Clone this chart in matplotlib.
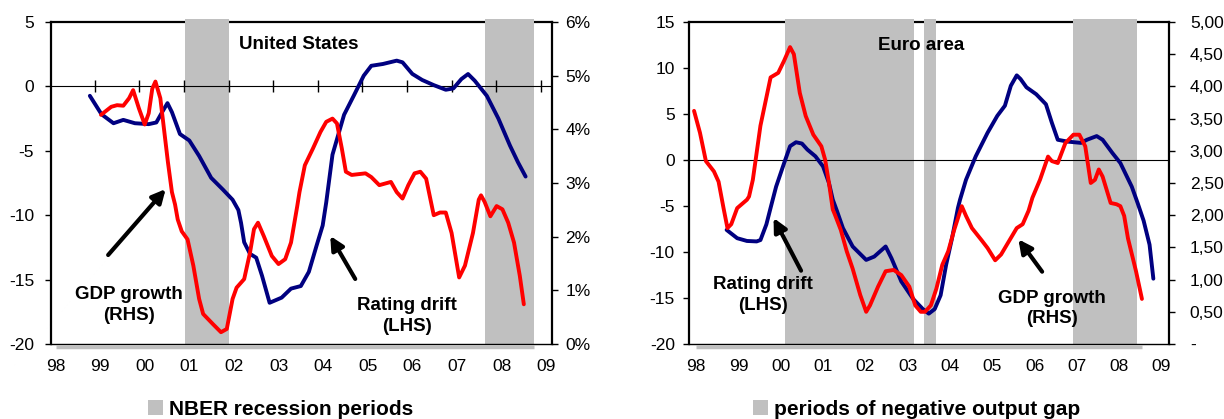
import numpy as np
import matplotlib
matplotlib.use('Agg')
import matplotlib.pyplot as plt
from matplotlib.patches import Patch
from matplotlib.transforms import offset_copy

plt.rcParams['font.family'] = ['Liberation Sans', 'DejaVu Sans']

# ---- data ----
years = list(range(1998, 2010))
year_labels = ['98', '99', '00', '01', '02', '03', '04', '05', '06', '07', '08', '09']

# United States: rating drift (LHS)
us_drift_x = [1998.77, 1999.03, 1999.30, 1999.52, 1999.78, 2000.09, 2000.26, 2000.39, 2000.51,
              2000.61, 2000.79, 2001.00, 2001.22, 2001.49, 2001.75, 2001.97, 2002.10, 2002.16,
              2002.23, 2002.36, 2002.50, 2002.63, 2002.80, 2003.07, 2003.28, 2003.50, 2003.68,
              2003.85, 2003.99, 2004.07, 2004.21, 2004.47, 2004.69, 2004.91, 2005.08, 2005.34,
              2005.65, 2005.78, 2006.00, 2006.22, 2006.48, 2006.75, 2006.92, 2007.10, 2007.25,
              2007.40, 2007.67, 2007.93, 2008.19, 2008.37, 2008.54]
us_drift = [-0.73, -2.16, -2.86, -2.6, -2.86, -2.93, -2.8, -2.0, -1.3,
            -2.0, -3.7, -4.2, -5.4, -7.1, -8.0, -8.8, -9.6, -10.6,
            -12.1, -13.0, -13.3, -14.7, -16.8, -16.4, -15.7, -15.5, -14.4,
            -12.4, -10.8, -9.0, -5.3, -2.2, -0.7, 0.83, 1.6, 1.74,
            2.0, 1.87, 0.97, 0.5, 0.1, -0.26, -0.16, 0.57, 0.96,
            0.44, -0.73, -2.5, -4.6, -5.9, -7.0]

# United States: GDP growth (RHS, %)
us_gdp_x = [1999.02, 1999.25, 1999.38, 1999.52, 1999.65, 1999.74, 1999.87, 2000.00, 2000.09,
            2000.17, 2000.24, 2000.35, 2000.44, 2000.52, 2000.61, 2000.68, 2000.74, 2000.83,
            2000.96, 2001.09, 2001.22, 2001.31, 2001.53, 2001.71, 2001.84, 2001.97, 2002.06,
            2002.23, 2002.36, 2002.45, 2002.54, 2002.67, 2002.85, 2003.00, 2003.15, 2003.28,
            2003.42, 2003.47, 2003.59, 2003.77, 2003.94, 2004.07, 2004.21, 2004.31, 2004.42,
            2004.51, 2004.64, 2004.95, 2005.08, 2005.26, 2005.39, 2005.52, 2005.65, 2005.78,
            2005.91, 2006.05, 2006.18, 2006.31, 2006.48, 2006.62, 2006.75, 2006.88, 2007.05,
            2007.18, 2007.36, 2007.49, 2007.54, 2007.62, 2007.75, 2007.89, 2008.02, 2008.15,
            2008.28, 2008.41, 2008.50]
us_gdp = [4.27, 4.42, 4.45, 4.44, 4.58, 4.73, 4.39, 4.09, 4.3,
          4.76, 4.89, 4.58, 3.95, 3.39, 2.83, 2.6, 2.32, 2.1,
          1.95, 1.46, 0.84, 0.56, 0.37, 0.22, 0.28, 0.84, 1.05,
          1.21, 1.70, 2.14, 2.26, 2.01, 1.64, 1.49, 1.58, 1.89,
          2.57, 2.83, 3.33, 3.64, 3.95, 4.14, 4.20, 4.11, 3.64,
          3.21, 3.15, 3.18, 3.11, 2.96, 2.99, 3.02, 2.83, 2.71,
          2.96, 3.18, 3.21, 3.08, 2.40, 2.45, 2.45, 2.07, 1.24,
          1.46, 2.07, 2.69, 2.77, 2.65, 2.38, 2.57, 2.51, 2.26,
          1.89, 1.27, 0.74]

us_recessions = [(2000.90, 2001.89), (2007.64, 2008.73)]

# Euro area: rating drift (LHS)
ea_drift_x = [1998.72, 1998.97, 1999.20, 1999.43, 1999.52, 1999.66, 1999.76, 1999.89, 2000.08,
              2000.22, 2000.36, 2000.50, 2000.63, 2000.82, 2001.00, 2001.14, 2001.23, 2001.33,
              2001.47, 2001.70, 2002.02, 2002.21, 2002.48, 2002.62, 2002.85, 2003.13, 2003.36,
              2003.50, 2003.64, 2003.78, 2003.91, 2004.05, 2004.19, 2004.24, 2004.38, 2004.61,
              2004.89, 2005.12, 2005.30, 2005.44, 2005.58, 2005.67, 2005.81, 2006.04, 2006.27,
              2006.41, 2006.55, 2006.78, 2007.10, 2007.24, 2007.47, 2007.61, 2007.84, 2008.03,
              2008.30, 2008.44, 2008.58, 2008.72, 2008.81]
ea_drift = [-7.6, -8.5, -8.8, -8.85, -8.7, -7.0, -5.2, -2.9, -0.33,
            1.5, 1.93, 1.79, 1.13, 0.4, -0.7, -2.5, -4.3, -5.55,
            -7.4, -9.4, -10.86, -10.5, -9.4, -10.7, -13.2, -15.1, -16.2,
            -16.7, -16.2, -14.7, -11.4, -8.5, -5.2, -4.3, -2.15, 0.4,
            2.96, 4.8, 5.9, 8.07, 9.2, 8.8, 7.9, 7.15, 6.06,
            4.05, 2.2, 2.0, 1.86, 2.2, 2.6, 2.2, 0.77, -0.33,
            -2.9, -4.7, -6.6, -9.2, -12.9]

# Euro area: GDP growth (RHS, %)
ea_gdp_x = [1997.95, 1998.09, 1998.23, 1998.42, 1998.53, 1998.65, 1998.74, 1998.83, 1998.97,
            1999.20, 1999.25, 1999.34, 1999.52, 1999.76, 1999.94, 2000.08, 2000.22, 2000.31,
            2000.45, 2000.59, 2000.77, 2000.96, 2001.05, 2001.14, 2001.23, 2001.28, 2001.42,
            2001.56, 2001.70, 2001.88, 2002.02, 2002.11, 2002.30, 2002.48, 2002.67, 2002.85,
            2003.04, 2003.18, 2003.31, 2003.41, 2003.55, 2003.68, 2003.82, 2003.96, 2004.10,
            2004.28, 2004.38, 2004.52, 2004.75, 2004.89, 2005.07, 2005.21, 2005.39, 2005.58,
            2005.72, 2005.86, 2005.95, 2006.13, 2006.32, 2006.41, 2006.55, 2006.73, 2006.92,
            2007.06, 2007.20, 2007.33, 2007.43, 2007.52, 2007.61, 2007.80, 2007.94, 2008.03,
            2008.12, 2008.21, 2008.40, 2008.54]
ea_gdp = [3.62, 3.28, 2.84, 2.68, 2.52, 2.10, 1.80, 1.86, 2.11,
          2.24, 2.29, 2.55, 3.39, 4.14, 4.21, 4.40, 4.61, 4.50,
          3.90, 3.54, 3.25, 3.07, 2.86, 2.50, 2.09, 2.01, 1.77,
          1.44, 1.17, 0.76, 0.50, 0.60, 0.89, 1.13, 1.15, 1.07,
          0.89, 0.60, 0.50, 0.50, 0.60, 0.86, 1.23, 1.44, 1.77,
          2.14, 1.99, 1.80, 1.61, 1.49, 1.30, 1.39, 1.59, 1.80,
          1.86, 2.07, 2.27, 2.55, 2.91, 2.84, 2.81, 3.12, 3.25,
          3.25, 3.07, 2.50, 2.55, 2.71, 2.60, 2.19, 2.17, 2.14,
          1.99, 1.64, 1.13, 0.70]

ea_gaps = [(2000.11, 2003.16), (2003.38, 2003.67), (2006.91, 2008.43)]

BLUE = '#000080'
RED = '#FF0000'
GREY = '#C0C0C0'
FS = 12.5
LW = 2.8

W, H = 1224, 419
fig = plt.figure(figsize=(W / 100, H / 100), dpi=100)


def panel(rect, xlim, ylim, yticks, rlim, rticks, rlabels, rpad, lpad, base_end):
    ax = fig.add_axes(rect)
    ax.set_xlim(*xlim)
    ax.set_ylim(*ylim)
    ax.set_yticks(yticks)
    ax.set_yticklabels([str(v) for v in yticks])
    ax.set_xticks(years)
    ax.set_xticklabels(year_labels)
    ax.tick_params(axis='x', length=0, pad=11, labelsize=FS)
    ax.tick_params(axis='y', direction='out', length=4, width=1, pad=lpad, labelsize=FS)
    ax.spines['left'].set_linewidth(1.6)
    ax.spines['top'].set_linewidth(1.6)
    ax.spines['right'].set_visible(False)
    ax.spines['bottom'].set_linewidth(1.0)
    ax.spines['bottom'].set_zorder(3.5)
    ax.axhline(0, color='black', lw=0.8, zorder=3.5)
    # grey base of the shaded series, just under the bottom axis line
    base = offset_copy(ax.get_xaxis_transform(), fig=fig, y=-2.5, units='dots')
    ax.plot([years[0], base_end], [0, 0], transform=base, color=GREY, lw=2.5,
            clip_on=False, zorder=2, solid_capstyle='butt')

    ax2 = ax.twinx()
    ax2.set_ylim(*rlim)
    ax2.set_yticks(rticks)
    ax2.set_yticklabels(rlabels)
    ax2.tick_params(axis='y', direction='out', length=4, width=1, pad=rpad, labelsize=FS)
    for s in ['top', 'bottom', 'left']:
        ax2.spines[s].set_visible(False)
    ax2.spines['right'].set_linewidth(1.6)
    return ax, ax2


bottom = 1 - 344 / H
height = (344 - 22) / H
arrow = dict(arrowstyle='-|>', lw=3, color='black', mutation_scale=20, shrinkA=0, shrinkB=0)
txt = dict(ha='center', va='center', fontsize=13.5, fontweight='bold', zorder=6)

# ---------------- United States ----------------
ax1, ax1r = panel([50.7 / W, bottom, (551.7 - 50.7) / W, height],
                  (1997.892, 2009.125), (-20, 5), [5, 0, -5, -10, -15, -20],
                  (0, 6), range(0, 7), ['%d%%' % v for v in range(0, 7)], 6, 8,
                  us_recessions[-1][1])
for a, b in us_recessions:
    ax1.axvspan(a, b, ymin=0, ymax=1.01, color=GREY, lw=0, zorder=3, clip_on=False)
# small tick marks on the zero line
ax1.plot([y - 0.12 for y in years[1:]], [0] * len(years[1:]), ls='none', marker='|',
         ms=8, mew=1, color='black', zorder=3.5)
ax1.plot(us_drift_x, us_drift, color=BLUE, lw=LW, zorder=4,
         solid_joinstyle='round', solid_capstyle='round')
ax1r.plot(us_gdp_x, us_gdp, color=RED, lw=LW, zorder=4,
          solid_joinstyle='round', solid_capstyle='round')

ax1.text(2003.46, 3.25, 'United States', **txt)
ax1.annotate('', xy=(2000.47, -7.97), xytext=(1999.18, -13.09), arrowprops=arrow, zorder=6)
ax1.annotate('', xy=(2004.16, -11.61), xytext=(2004.72, -14.95), arrowprops=arrow, zorder=6)
ax1.text(1999.65, -16.97, 'GDP growth\n(RHS)', linespacing=1.25, **txt)
ax1.text(2005.88, -17.83, 'Rating drift\n(LHS)', linespacing=1.25, **txt)

# ---------------- Euro area ----------------
ea_rticks = [0, 0.5, 1, 1.5, 2, 2.5, 3, 3.5, 4, 4.5, 5]
ea_rlabels = ['-'] + [('%.2f' % v).replace('.', ',') for v in ea_rticks[1:]]
ax3, ax3r = panel([689.4 / W, bottom, (1169 - 689.4) / W, height],
                  (1997.84, 2009.18), (-20, 15), [15, 10, 5, 0, -5, -10, -15, -20],
                  (0, 5), ea_rticks, ea_rlabels, 11, 6.5, ea_gdp_x[-1])
for a, b in ea_gaps:
    ax3.axvspan(a, b, ymin=0, ymax=1.01, color=GREY, lw=0, zorder=3, clip_on=False)
ax3.plot(ea_drift_x, ea_drift, color=BLUE, lw=LW, zorder=4,
         solid_joinstyle='round', solid_capstyle='round')
ax3r.plot(ea_gdp_x, ea_gdp, color=RED, lw=LW, zorder=4,
          solid_joinstyle='round', solid_capstyle='round')

ax3.text(2003.32, 12.5, 'Euro area', **txt)
ax3.annotate('', xy=(1999.83, -6.30), xytext=(2000.48, -12.03), arrowprops=arrow, zorder=6)
ax3.annotate('', xy=(2005.62, -8.62), xytext=(2006.18, -12.14), arrowprops=arrow, zorder=6)
ax3.text(1999.57, -14.67, 'Rating drift\n(LHS)', linespacing=1.25, **txt)
ax3.text(2006.41, -16.14, 'GDP growth\n(RHS)', linespacing=1.25, **txt)

# ---------------- legends ----------------
for x0, label in [(148 / W, 'NBER recession periods'), (753 / W, 'periods of negative output gap')]:
    fig.legend(handles=[Patch(color=GREY, lw=0)], labels=[label], loc='center left',
               bbox_to_anchor=(x0, 1 - 409 / H), frameon=False, borderpad=0, borderaxespad=0,
               handlelength=0.7, handleheight=0.7, handletextpad=0.3,
               prop={'weight': 'bold', 'size': 15})

fig.savefig('out.png', dpi=100)
